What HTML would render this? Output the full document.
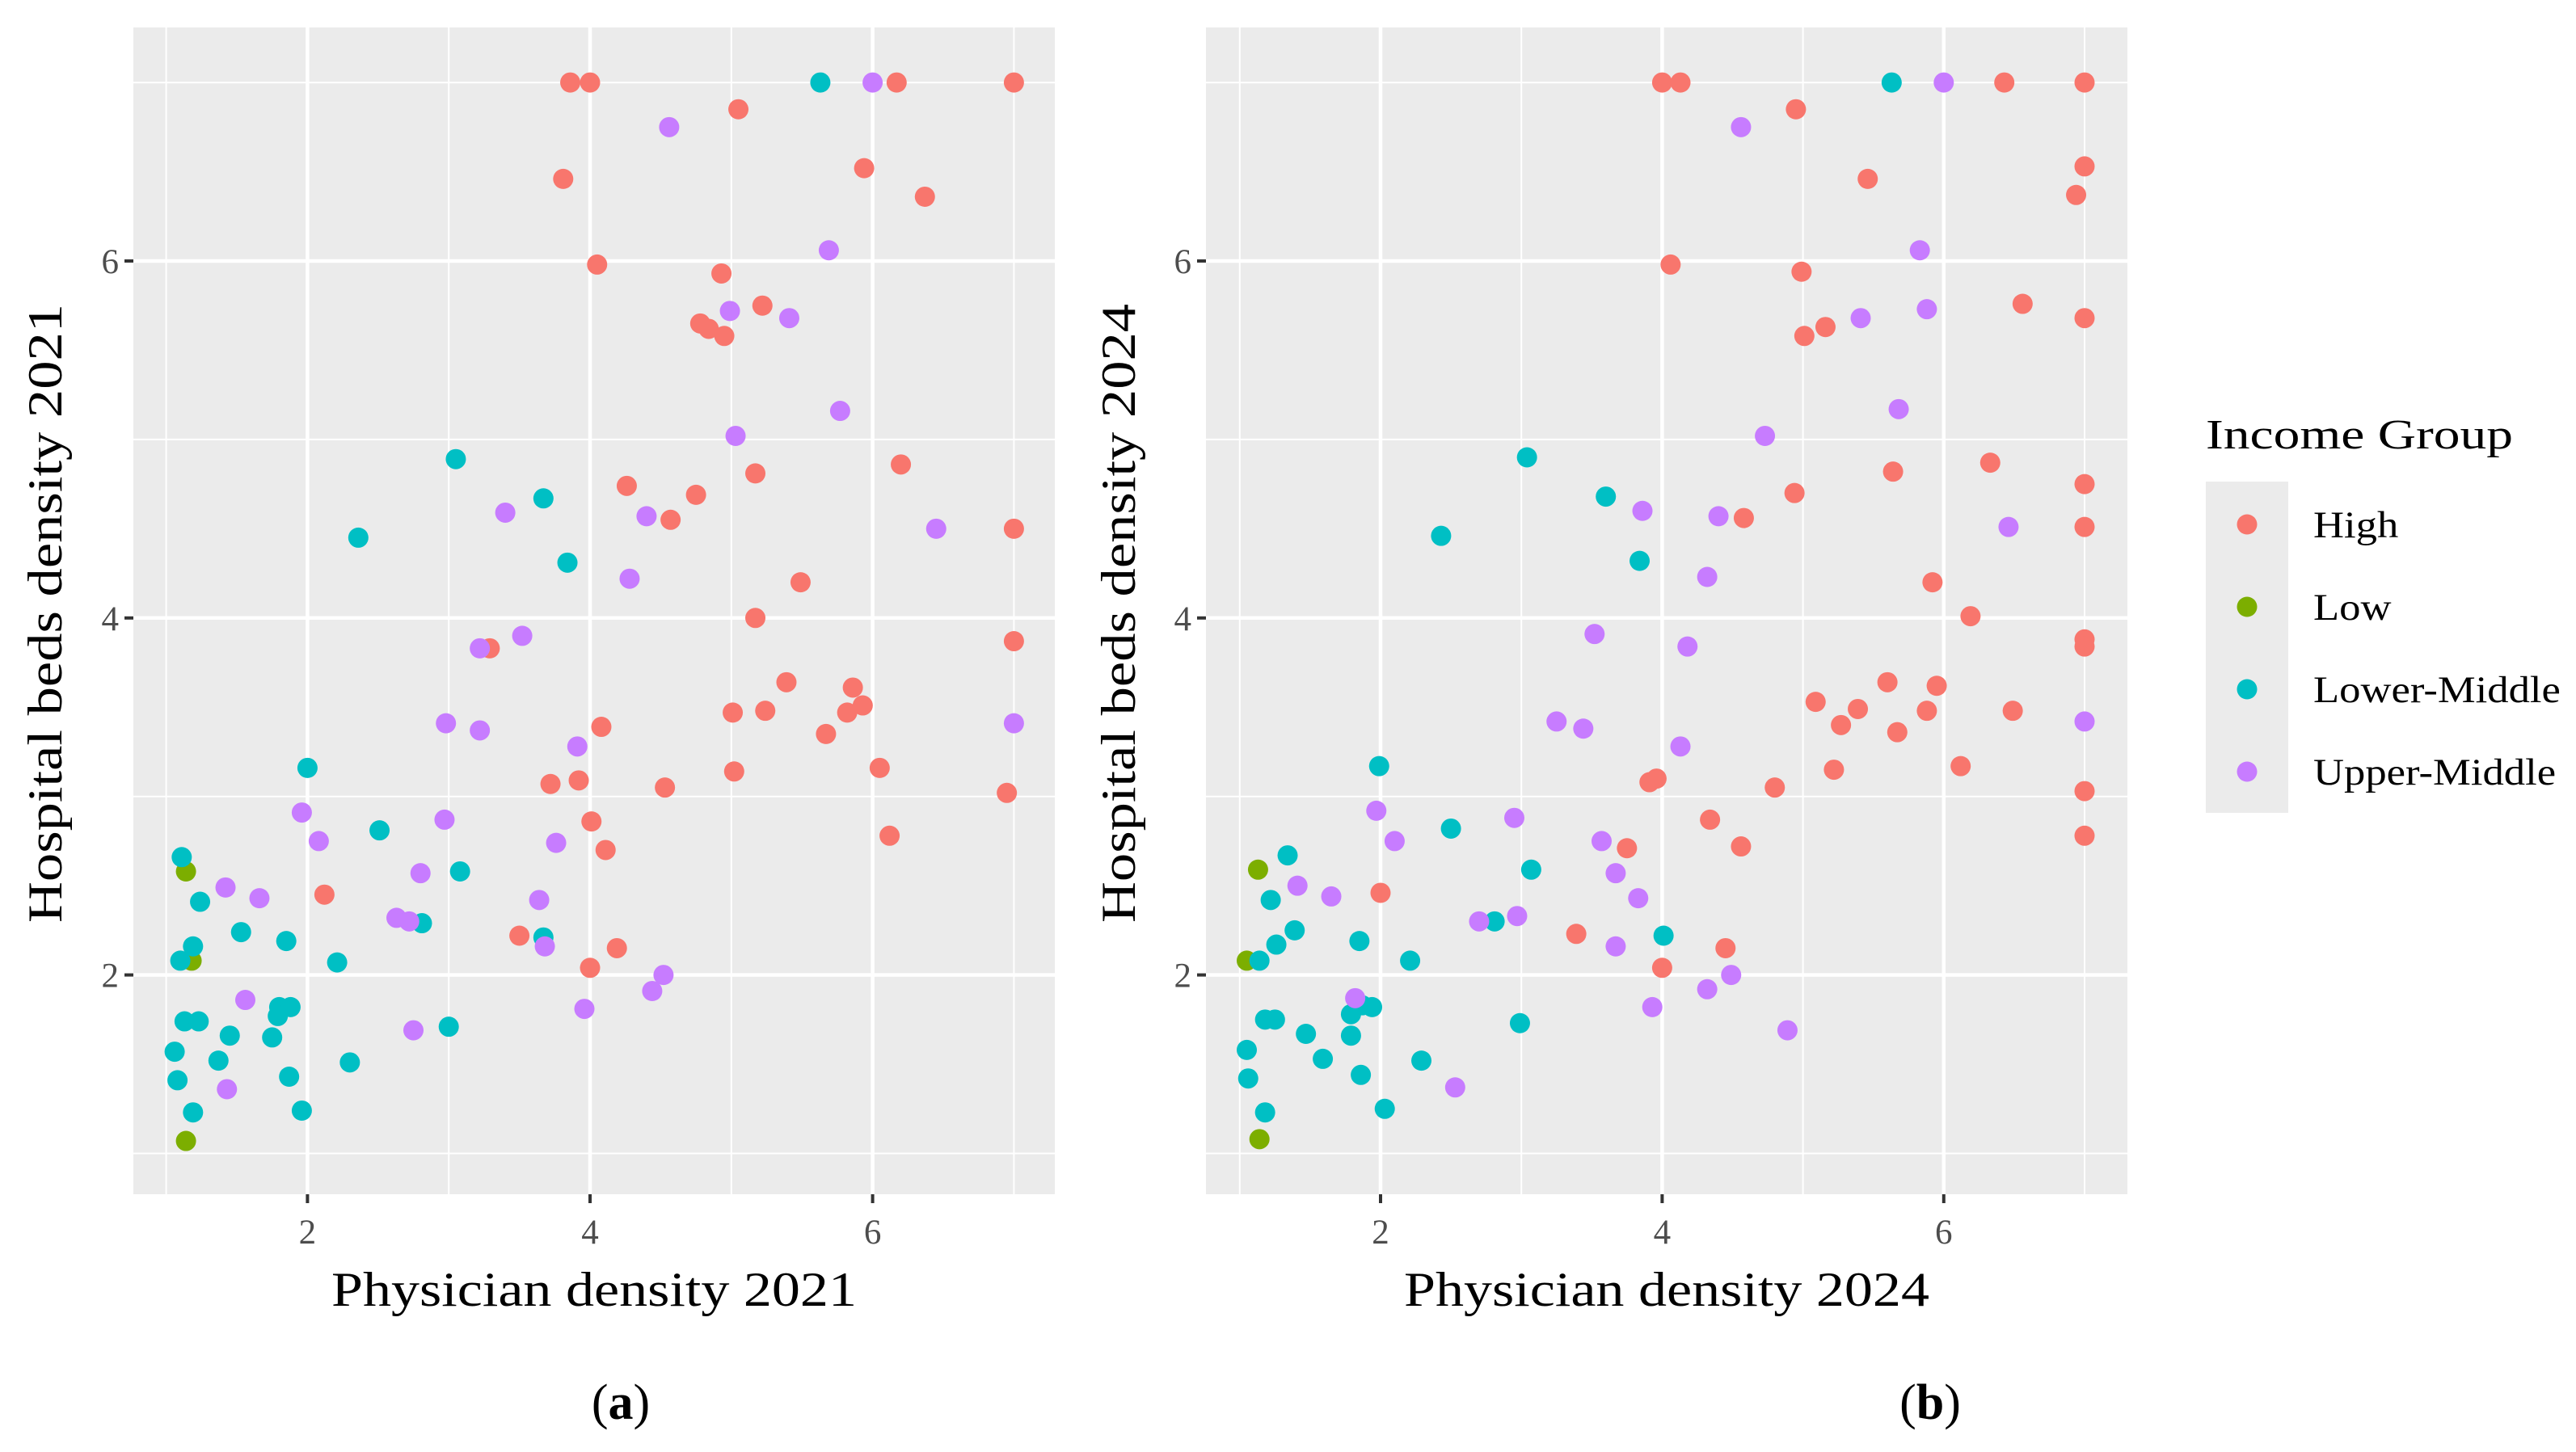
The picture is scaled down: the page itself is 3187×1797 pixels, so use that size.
<!DOCTYPE html>
<html><head><meta charset="utf-8"><style>
html,body{margin:0;padding:0;background:#fff}
svg{display:block}
text{font-family:"Liberation Serif",serif}
</style></head><body>
<svg id="chart" width="3187" height="1797" viewBox="0 0 3187 1797" xmlns="http://www.w3.org/2000/svg"></svg>
<script>
const groups = ["High","Low","Lower-Middle","Upper-Middle"];
const groupColors = ["#F8766D","#7CAE00","#00BFC4","#C77CFF"];
const xTicks = [2,4,6];
const yTicks = [2,4,6];
// Panel (a) 2021
const aHighX = [3.86,4.00,5.05,3.81,5.94,6.17,7.0,6.37,4.05,4.93,5.22,4.78,4.84,4.95,4.26,4.75,4.57,5.17,6.20,7.0,5.49,5.17,3.29,7.0,5.39,5.86,5.82,5.93,5.01,5.24,5.67,4.08,3.92,3.72,4.53,5.02,6.05,6.95,4.01,4.11,6.12,2.12,3.50,4.19,4.00];
const aHighY = [7.0,7.0,6.85,6.46,6.52,7.0,7.0,6.36,5.98,5.93,5.75,5.65,5.62,5.58,4.74,4.69,4.55,4.81,4.86,4.50,4.20,4.00,3.83,3.87,3.64,3.61,3.47,3.51,3.47,3.48,3.35,3.39,3.09,3.07,3.05,3.14,3.16,3.02,2.86,2.70,2.78,2.45,2.22,2.15,2.04];
const aLowX = [1.14,1.18,1.14];
const aLowY = [2.58,2.08,1.07];
const aLMX = [5.63,3.05,3.67,2.36,3.84,2.0,2.51,3.08,2.81,3.67,2.21,1.11,1.24,1.53,1.19,1.85,1.10,1.13,1.23,1.80,1.88,1.79,1.45,1.75,1.06,1.37,3.0,2.30,1.08,1.87,1.19,1.96];
const aLMY = [7.0,4.89,4.67,4.45,4.31,3.16,2.81,2.58,2.29,2.21,2.07,2.66,2.41,2.24,2.16,2.19,2.08,1.74,1.74,1.82,1.82,1.77,1.66,1.65,1.57,1.52,1.71,1.51,1.41,1.43,1.23,1.24];
const aUMX = [4.56,6.0,5.69,4.99,5.41,5.77,5.03,3.40,4.40,6.45,4.28,3.52,3.22,2.98,3.22,7.0,3.91,1.96,2.97,2.08,3.76,1.42,1.66,2.80,3.64,2.63,2.72,3.68,4.52,4.44,3.96,1.56,2.75,1.43];
const aUMY = [6.75,7.0,6.06,5.72,5.68,5.16,5.02,4.59,4.57,4.50,4.22,3.90,3.83,3.41,3.37,3.41,3.28,2.91,2.87,2.75,2.74,2.49,2.43,2.57,2.42,2.32,2.30,2.16,2.0,1.91,1.81,1.86,1.69,1.36];
// Panel (b) 2024
const bHighX = [4.0,4.13,4.95,6.43,7.0,7.0,6.94,5.46,4.06,4.99,6.56,5.16,5.01,7.0,5.64,6.33,4.94,7.0,4.58,7.0,5.92,6.19,7.0,7.0,5.09,5.60,5.95,5.39,5.88,6.49,5.27,5.67,5.22,6.12,3.91,3.96,4.80,7.0,4.34,3.75,4.56,7.0,2.0,3.39,4.45,4.0];
const bHighY = [7.0,7.0,6.85,7.0,7.0,6.53,6.37,6.46,5.98,5.94,5.76,5.63,5.58,5.68,4.82,4.87,4.70,4.75,4.56,4.51,4.20,4.01,3.88,3.84,3.53,3.64,3.62,3.49,3.48,3.48,3.40,3.36,3.15,3.17,3.08,3.10,3.05,3.03,2.87,2.71,2.72,2.78,2.46,2.23,2.15,2.04];
const bLowX = [1.13,1.05,1.14];
const bLowY = [2.59,2.08,1.08];
const bLMX = [5.63,3.04,3.60,2.43,3.84,1.99,2.50,3.07,2.81,4.01,2.21,1.34,1.22,1.39,1.26,1.85,1.14,1.18,1.25,1.47,1.79,1.87,1.94,1.79,1.05,1.59,2.99,2.29,1.06,1.86,1.18,2.03];
const bLMY = [7.0,4.90,4.68,4.46,4.32,3.17,2.82,2.59,2.30,2.22,2.08,2.67,2.42,2.25,2.17,2.19,2.08,1.75,1.75,1.67,1.78,1.83,1.82,1.66,1.58,1.53,1.73,1.52,1.42,1.44,1.23,1.25];
const bUMX = [4.56,6.0,5.83,5.88,5.41,5.68,4.73,3.86,4.40,6.46,4.32,3.52,4.18,3.25,3.44,7.0,4.13,1.97,2.95,2.10,3.57,1.41,1.65,3.67,3.83,2.70,2.97,3.67,4.49,4.32,3.93,1.82,4.89,2.53];
const bUMY = [6.75,7.0,6.06,5.73,5.68,5.17,5.02,4.60,4.57,4.51,4.23,3.91,3.84,3.42,3.38,3.42,3.28,2.92,2.88,2.75,2.75,2.50,2.44,2.57,2.43,2.30,2.33,2.16,2.0,1.92,1.82,1.87,1.69,1.37];

const NS="http://www.w3.org/2000/svg";
const svg=document.getElementById('chart');
function mk(tag,attrs,parent){const e=document.createElementNS(NS,tag);for(const k in attrs)e.setAttribute(k,attrs[k]);(parent||svg).appendChild(e);return e;}

function panel(cfg){
  const g=mk('g',{});
  
  
  const xS=v=>cfg.x2+(v-2)*cfg.xu;
  const yS=v=>323+(6-v)*220.9;
  const bg=mk('rect',{x:cfg.left,y:34,width:cfg.right-cfg.left,height:1444,fill:'#EBEBEB'},g);
  
  
  [1,3,5,7].forEach(v=>{mk('line',{x1:xS(v),x2:xS(v),y1:34,y2:1478,stroke:'#fff','stroke-width':2},g);});
  [1,3,5,7].forEach(v=>{mk('line',{x1:cfg.left,x2:cfg.right,y1:yS(v),y2:yS(v),stroke:'#fff','stroke-width':2},g);});
  xTicks.forEach(v=>{
    mk('line',{x1:xS(v),x2:xS(v),y1:34,y2:1478,stroke:'#fff','stroke-width':4.5},g);
    mk('line',{x1:xS(v),x2:xS(v),y1:1478,y2:1489,stroke:'#333','stroke-width':4},g);
    const t=mk('text',{x:xS(v),y:1539,'text-anchor':'middle','font-size':43,fill:'#4D4D4D'},g);
    t.textContent=v;
    
    
  });
  yTicks.forEach(v=>{
    mk('line',{x1:cfg.left,x2:cfg.right,y1:yS(v),y2:yS(v),stroke:'#fff','stroke-width':4.5},g);
    mk('line',{x1:cfg.left-11,x2:cfg.left,y1:yS(v),y2:yS(v),stroke:'#333','stroke-width':4},g);
    const t=mk('text',{x:cfg.left-18,y:yS(v)+15,'text-anchor':'end','font-size':43,fill:'#4D4D4D'},g);
    t.textContent=v;
    
    
  });
  cfg.series.forEach((s,i)=>{
    s[0].forEach((xv,j)=>{
      const c=mk('circle',{cx:xS(xv),cy:yS(s[1][j]),r:12.5,fill:groupColors[i]},g);
      
      
    });
  });
  const xt=mk('text',{x:(cfg.left+cfg.right)/2,y:1616,'text-anchor':'middle','font-size':60,fill:'#000',textLength:650,lengthAdjust:'spacingAndGlyphs'},g);
  xt.textContent=cfg.xTitle;
  
  
  const yt=mk('text',{x:0,y:0,'text-anchor':'middle','font-size':60,fill:'#000',textLength:766,lengthAdjust:'spacingAndGlyphs',transform:`translate(${cfg.ytx},759) rotate(-90)`},g);
  yt.textContent=cfg.yTitle;
  
  
  const lab=mk('text',{x:cfg.labX,y:1756,'text-anchor':'middle','font-size':62,fill:'#000'},g);
  lab.innerHTML='(<tspan font-weight="bold">'+cfg.lab+'</tspan>)';
  
  
}
panel({name:'panel-a',left:165,right:1305,x2:380.4,xu:174.8,xTitle:'Physician density 2021',yTitle:'Hospital beds density 2021',ytx:76,labX:768,lab:'a',
  series:[[aHighX,aHighY],[aLowX,aLowY],[aLMX,aLMY],[aUMX,aUMY]]});
panel({name:'panel-b',left:1492,right:2632,x2:1708,xu:174.2,xTitle:'Physician density 2024',yTitle:'Hospital beds density 2024',ytx:1404,labX:2388,lab:'b',
  series:[[bHighX,bHighY],[bLowX,bLowY],[bLMX,bLMY],[bUMX,bUMY]]});

// legend
const lg=mk('g',{});


const lt=mk('text',{x:2729,y:555,'font-size':52,fill:'#000',textLength:380,lengthAdjust:'spacingAndGlyphs'},lg);
lt.textContent='Income Group';


mk('rect',{x:2729,y:596,width:102,height:410,fill:'#EBEBEB'},lg);
groups.forEach((gname,i)=>{
  const y=649+i*102;
  const c=mk('circle',{cx:2780,cy:y,r:12.5,fill:groupColors[i]},lg);
  
  
  const t=mk('text',{x:2862,y:y+16,'font-size':47,fill:'#000'},lg);
  t.textContent=gname;
  
  
  const w=t.getComputedTextLength();
  t.setAttribute('textLength',(w*1.12).toFixed(1));
  t.setAttribute('lengthAdjust','spacingAndGlyphs');
});
</script>
</body></html>
